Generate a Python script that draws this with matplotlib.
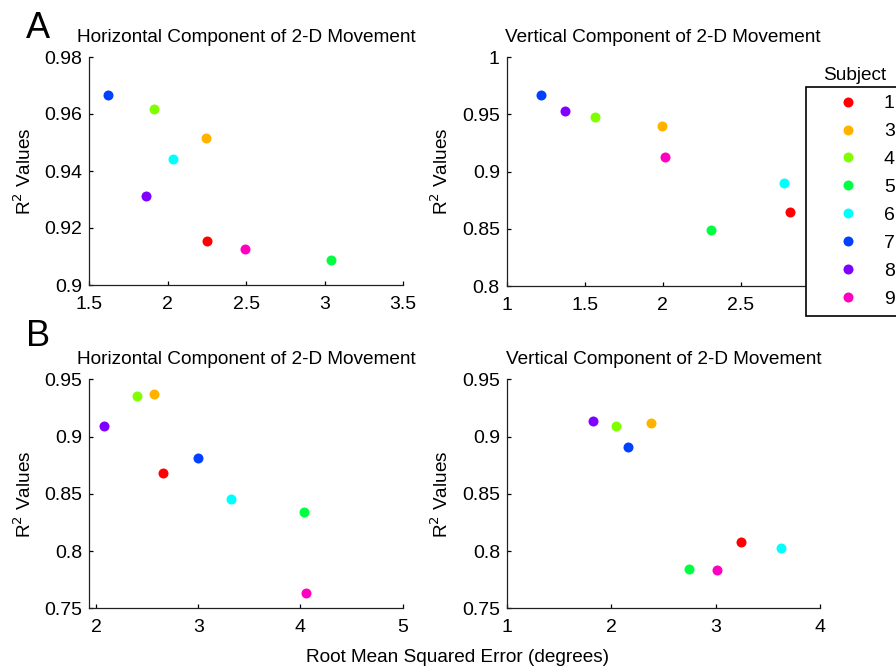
import matplotlib
matplotlib.use("Agg")
import matplotlib.pyplot as plt
from matplotlib.lines import Line2D

plt.rcParams['font.family'] = ['Liberation Sans', 'DejaVu Sans']

subjects = ['1', '3', '4', '5', '6', '7', '8', '9']
colors = ['#FF0000', '#FFB300', '#80FF00', '#00FF40', '#00FFFF', '#0040FF', '#8000FF', '#FF00C0']

# Panel A – horizontal component
a_h_rmse = [2.252, 2.244, 1.910, 3.041, 2.033, 1.617, 1.861, 2.490]
a_h_r2 = [0.9155, 0.9517, 0.9616, 0.9089, 0.9443, 0.9667, 0.9311, 0.9125]
# Panel A – vertical component
a_v_rmse = [2.816, 1.996, 1.566, 2.312, 2.778, 1.222, 1.374, 2.015]
a_v_r2 = [0.8645, 0.9397, 0.9480, 0.8488, 0.8904, 0.9670, 0.9530, 0.9126]
# Panel B – horizontal component
b_h_rmse = [2.652, 2.564, 2.401, 4.033, 3.320, 3.000, 2.081, 4.050]
b_h_r2 = [0.8679, 0.9369, 0.9354, 0.8341, 0.8457, 0.8810, 0.9095, 0.7636]
# Panel B – vertical component
b_v_rmse = [3.238, 2.382, 2.041, 2.740, 3.625, 2.156, 1.827, 3.011]
b_v_r2 = [0.8079, 0.9121, 0.9092, 0.7846, 0.8029, 0.8911, 0.9136, 0.7834]

title_h = 'Horizontal Component of 2-D Movement'
title_v = 'Vertical Component of 2-D Movement'

W, H = 896, 668
fig = plt.figure(figsize=(W / 100, H / 100), dpi=100)


def rect(x0, x1, y0, y1):
    return [x0 / W, 1 - y1 / H, (x1 - x0) / W, (y1 - y0) / H]


panels = [
    dict(rect=rect(89.3, 403, 57, 285), x=a_h_rmse, y=a_h_r2, title=title_h,
         xlim=(1.5, 3.5), xt=[1.5, 2, 2.5, 3, 3.5], xtl=['1.5', '2', '2.5', '3', '3.5'],
         ylim=(0.9, 0.98), yt=[0.9, 0.92, 0.94, 0.96, 0.98], ytl=['0.9', '0.92', '0.94', '0.96', '0.98']),
    dict(rect=rect(506.7, 818.7, 57.3, 286), x=a_v_rmse, y=a_v_r2, title=title_v,
         xlim=(1, 3), xt=[1, 1.5, 2, 2.5, 3], xtl=['1', '1.5', '2', '2.5', '3'],
         ylim=(0.8, 1.0), yt=[0.8, 0.85, 0.9, 0.95, 1.0], ytl=['0.8', '0.85', '0.9', '0.95', '1']),
    dict(rect=rect(89.3, 402.7, 379.3, 608.3), x=b_h_rmse, y=b_h_r2, title=title_h,
         xlim=(1.935, 5), xt=[2, 3, 4, 5], xtl=['2', '3', '4', '5'],
         ylim=(0.75, 0.95), yt=[0.75, 0.8, 0.85, 0.9, 0.95], ytl=['0.75', '0.8', '0.85', '0.9', '0.95']),
    dict(rect=rect(507, 820.3, 379.3, 608.3), x=b_v_rmse, y=b_v_r2, title=title_v,
         xlim=(1, 4), xt=[1, 2, 3, 4], xtl=['1', '2', '3', '4'],
         ylim=(0.75, 0.95), yt=[0.75, 0.8, 0.85, 0.9, 0.95], ytl=['0.75', '0.8', '0.85', '0.9', '0.95']),
]

for p in panels:
    ax = fig.add_axes(p['rect'])
    for xi, yi, c in zip(p['x'], p['y'], colors):
        ax.plot(xi, yi, 'o', color=c, markersize=7.2, markeredgewidth=0, clip_on=False)
    ax.set_xlim(*p['xlim'])
    ax.set_ylim(*p['ylim'])
    ax.set_xticks(p['xt'])
    ax.set_xticklabels(p['xtl'])
    ax.set_yticks(p['yt'])
    ax.set_yticklabels(p['ytl'])
    ax.spines['top'].set_visible(False)
    ax.spines['right'].set_visible(False)
    for s in ('left', 'bottom'):
        ax.spines[s].set_linewidth(0.9)
        ax.spines[s].set_color('#202020')
    ax.tick_params(direction='in', length=3, width=0.9, labelsize=14, colors='black')
    ax.tick_params(axis='x', pad=8)
    ax.tick_params(axis='y', pad=5)
    ax.set_title(p['title'], fontsize=13.7, pad=11)
    ax.set_ylabel('R$^2$ Values', fontsize=13.7, labelpad=7)

fig.text(457 / W, 1 - 657 / H, 'Root Mean Squared Error (degrees)', fontsize=13.7,
         ha='center', va='center')
fig.text(38 / W, 1 - 28 / H, 'A', fontsize=26, ha='center', va='center')
fig.text(38 / W, 1 - 336 / H, 'B', fontsize=26, ha='center', va='center')

handles = [Line2D([], [], linestyle='none', marker='o', color=c, markersize=7.2,
                  markeredgewidth=0) for c in colors]
leg = fig.legend(handles, subjects, loc='upper left',
                 bbox_to_anchor=(806 / W, 1 - 87 / H), borderaxespad=0,
                 fontsize=14, frameon=True, fancybox=False, framealpha=1,
                 edgecolor='black', borderpad=0.4, handlelength=3.5,
                 handletextpad=0.1, labelspacing=0.53)
leg.get_frame().set_linewidth(1.2)
fig.text(855 / W, 1 - 76 / H, 'Subject', fontsize=13.7, ha='center', va='center')

fig.savefig('out.png', dpi=100)
